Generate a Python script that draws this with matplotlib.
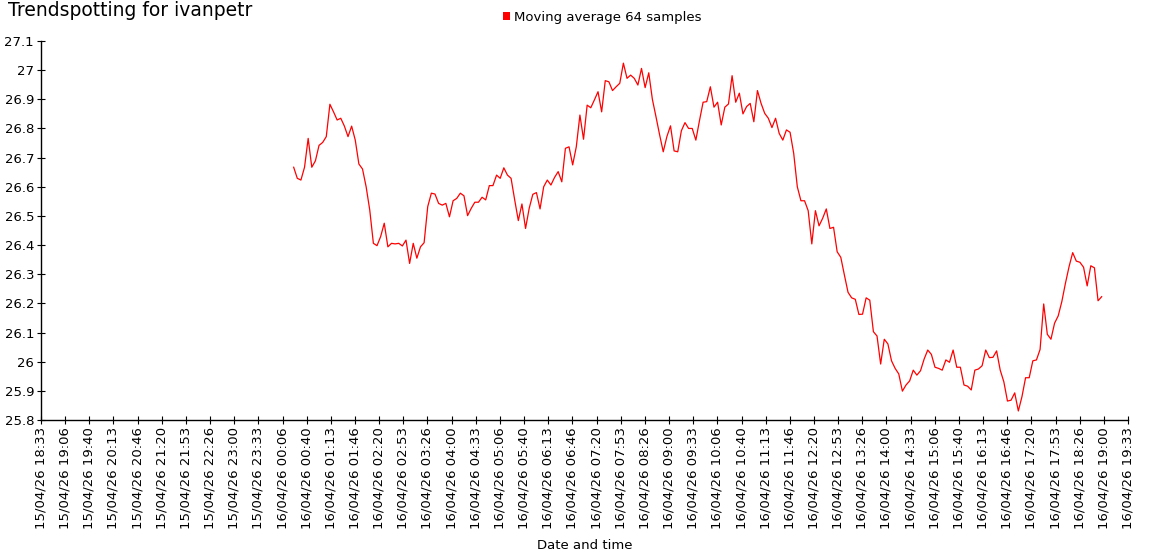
import pandas as pd
import matplotlib
matplotlib.use("Agg")
import matplotlib.pyplot as plt
import matplotlib.dates as mdates
from matplotlib.patches import Patch
from matplotlib.ticker import MultipleLocator, FuncFormatter

# --------------------------------------------------
# 1. Data (5 minute samples)
# --------------------------------------------------
series_label = "Moving average 64 samples"
first_sample = "2026-04-16 00:22"
sample_step = "5min"

moving_avg = [
    26.667, 26.629, 26.623, 26.667, 26.766, 26.667, 26.689, 26.742, 26.752, 26.772,
    26.883, 26.857, 26.829, 26.835, 26.808, 26.772, 26.808, 26.760, 26.678, 26.661,
    26.600, 26.520, 26.406, 26.398, 26.429, 26.475, 26.394, 26.406, 26.404, 26.406,
    26.397, 26.417, 26.337, 26.406, 26.355, 26.394, 26.408, 26.532, 26.578, 26.575,
    26.543,
    26.537, 26.543, 26.497, 26.552, 26.560, 26.578, 26.569, 26.501, 26.526, 26.547,
    26.547, 26.564, 26.555, 26.604, 26.604, 26.640, 26.629, 26.665, 26.640, 26.629,
    26.555, 26.484, 26.541, 26.457, 26.526, 26.574, 26.580, 26.524, 26.600, 26.623,
    26.606, 26.632, 26.652, 26.617, 26.732, 26.737, 26.675, 26.737, 26.846, 26.763,
    26.880,
    26.871, 26.898, 26.926, 26.857, 26.964, 26.960, 26.930, 26.943, 26.955, 27.024,
    26.972, 26.983, 26.972, 26.949, 27.006, 26.940, 26.991, 26.900, 26.840, 26.778,
    26.720, 26.772, 26.809, 26.723, 26.720, 26.792, 26.820, 26.800, 26.800, 26.760,
    26.827, 26.890, 26.892, 26.943, 26.873, 26.890, 26.812, 26.873, 26.884, 26.981,
    26.890,
    26.921, 26.850, 26.875, 26.886, 26.823, 26.930, 26.886, 26.852, 26.835, 26.803,
    26.835, 26.783, 26.760, 26.795, 26.787, 26.715, 26.600, 26.552, 26.552, 26.518,
    26.404, 26.518, 26.466, 26.492, 26.524, 26.457, 26.461, 26.377, 26.358, 26.297,
    26.238, 26.219, 26.214, 26.162, 26.163, 26.219, 26.211, 26.103, 26.088, 25.992,
    26.077, 26.061, 26.003, 25.977, 25.958, 25.899, 25.920, 25.934, 25.971, 25.954,
    25.969, 26.009, 26.040, 26.025, 25.981, 25.977, 25.971, 26.006, 25.998, 26.040,
    25.981, 25.981, 25.920, 25.916, 25.903, 25.971, 25.975, 25.986, 26.040, 26.014,
    26.015, 26.037, 25.971, 25.931, 25.865, 25.868, 25.893, 25.831, 25.880, 25.945,
    25.945, 26.003, 26.006,
    26.042, 26.198, 26.094, 26.077, 26.132, 26.157, 26.206, 26.269, 26.326, 26.374,
    26.345, 26.341, 26.324, 26.260, 26.329, 26.322, 26.209, 26.223,
]

# axis range and tick spacing used by the original chart
x_start = "2026-04-15 18:33:20"
x_end = "2026-04-16 19:33:20"
x_tick_step = "2000s"
y_min, y_max = 25.8, 27.1

times = pd.date_range(first_sample, periods=len(moving_avg), freq=sample_step)
x_ticks = pd.date_range(x_start, x_end, freq=x_tick_step)

# --------------------------------------------------
# 2. Plot
# --------------------------------------------------
plt.rcParams["font.family"] = ["DejaVu Sans"]

fig = plt.figure(figsize=(11.5, 5.6), dpi=100)
ax = fig.add_axes([41 / 1150, 0.25, (1128 - 41) / 1150, (420 - 41) / 560])

ax.plot(times, moving_avg, color="#ff0000", linewidth=0.9)

ax.set_xlim(pd.Timestamp(x_start), pd.Timestamp(x_end))
ax.set_ylim(y_min, y_max)

ax.set_xticks(x_ticks)
ax.xaxis.set_major_formatter(mdates.DateFormatter("%d/%m/%y %H:%M"))
ax.yaxis.set_major_locator(MultipleLocator(0.1))
ax.yaxis.set_major_formatter(FuncFormatter(lambda v, pos: f"{round(v, 1):g}"))

for lbl in ax.get_xticklabels():
    lbl.set_rotation(90)

ax.tick_params(direction="inout", length=6, width=0.8, labelsize=9.5, colors="black", pad=2)
ax.spines["top"].set_visible(False)
ax.spines["right"].set_visible(False)
ax.spines["left"].set_linewidth(1)
ax.spines["bottom"].set_linewidth(1)

ax.set_xlabel("Date and time", fontsize=9.5)
ax.xaxis.set_label_coords(0.5, -0.315)

fig.text(0.007, 0.998, "Trendspotting for ivanpetr", fontsize=13.5, ha="left", va="top")

fig.legend(
    handles=[Patch(facecolor="#ff0000", edgecolor="none", label=series_label)],
    loc="center",
    bbox_to_anchor=(602 / 1150, 1 - 17 / 560),
    frameon=False,
    fontsize=9.5,
    handlelength=0.5,
    handleheight=0.5,
    handletextpad=0.3,
    borderpad=0,
)

fig.savefig("out.png", dpi=100)
